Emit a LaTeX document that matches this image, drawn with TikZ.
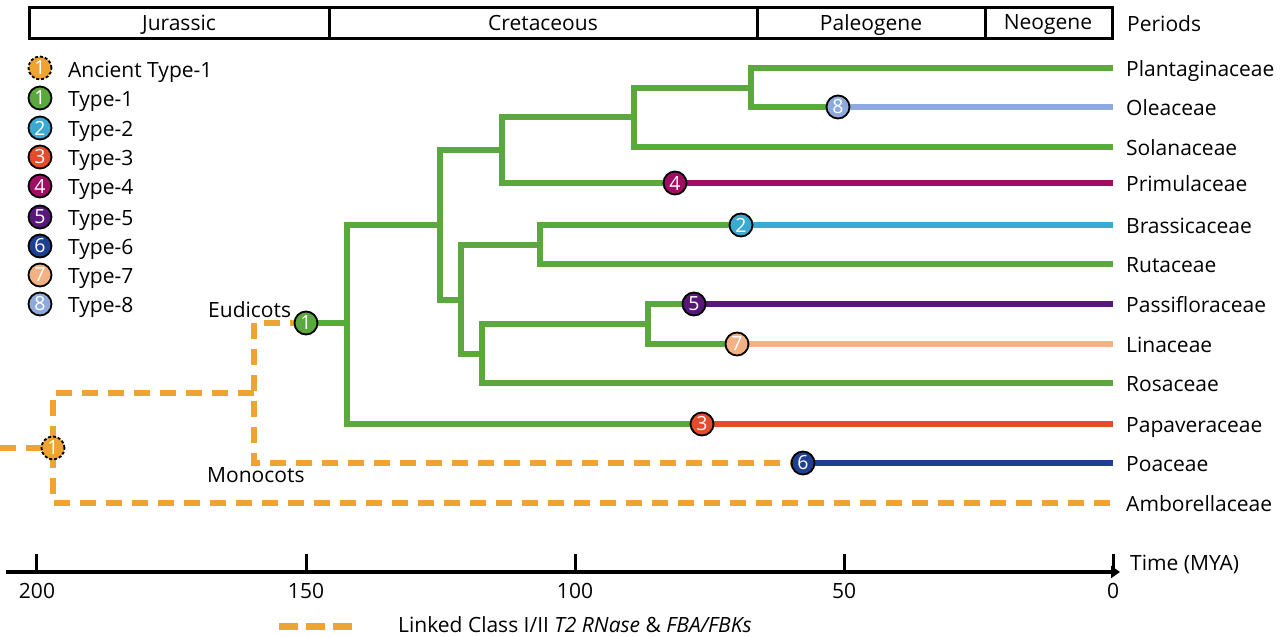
\documentclass[tikz,border=0pt]{standalone}
\usepackage{fontspec}
\setmainfont{Open Sans}
\usetikzlibrary{arrows.meta}
\definecolor{grn}{RGB}{91,168,62}
\definecolor{org}{RGB}{238,163,50}
\definecolor{cA}{RGB}{58,170,211}
\definecolor{cB}{RGB}{230,75,42}
\definecolor{cC}{RGB}{162,12,98}
\definecolor{cD}{RGB}{88,24,122}
\definecolor{cE}{RGB}{31,64,145}
\definecolor{cF}{RGB}{244,177,131}
\definecolor{cG}{RGB}{142,169,219}
\begin{document}
\begin{tikzpicture}[x=1pt,y=-1pt,
  br/.style={line width=6pt,line join=miter},
  gb/.style={br,draw=grn},
  od/.style={line width=6.5pt,draw=org,dash pattern=on 16pt off 10pt,line join=miter},
  mk/.style={circle,draw=black,line width=1.8pt,minimum size=23pt,inner sep=0pt,text=white,font=\fontsize{19.5}{19.5}\selectfont},
  txt/.style={inner sep=0pt,font=\fontsize{21}{25}\selectfont},
  lbl/.style={txt,anchor=base west},
  tick/.style={line width=3pt}]
\useasboundingbox (0,0) rectangle (1280,637);

% periods bar
\draw[line width=3pt] (29,7) rectangle (1112,38);
\draw[line width=3pt] (329,7) -- (329,38) (757,7) -- (757,38) (985,7) -- (985,38);
\node[txt,anchor=base] (pJ) at (179,30) {Jurassic};
\node[txt,anchor=base] (pC) at (543,30) {Cretaceous};
\node[txt,anchor=base] (pP) at (871,30) {Paleogene};
\node[txt,anchor=base] (pN) at (1048,29) {Neogene};
\node[lbl] (pL) at (1127,31) {Periods};

% legend
\node[mk,fill=org,dashed,dash pattern=on 3pt off 2pt] (l0) at (40,68) {1};
\node[mk,fill=grn] (l1) at (40,98) {1};
\node[mk,fill=cA] (l2) at (40,128) {2};
\node[mk,fill=cB] (l3) at (40,157) {3};
\node[mk,fill=cC] (l4) at (40,186) {4};
\node[mk,fill=cD] (l5) at (40,217) {5};
\node[mk,fill=cE] (l6) at (40,246) {6};
\node[mk,fill=cF] (l7) at (40,275) {7};
\node[mk,fill=cG] (l8) at (40,304) {8};
\node[lbl] (t0) at (68,77) {Ancient Type-1};
\node[lbl] (t1) at (68,106) {Type-1};
\node[lbl] (t2) at (68,136) {Type-2};
\node[lbl] (t3) at (68,165) {Type-3};
\node[lbl] (t4) at (68,194) {Type-4};
\node[lbl] (t5) at (68,225) {Type-5};
\node[lbl] (t6) at (68,254) {Type-6};
\node[lbl] (t7) at (68,283) {Type-7};
\node[lbl] (t8) at (68,312) {Type-8};

% tips
\coordinate (tPl) at (1113,68);
\coordinate (tOl) at (1113,107);
\coordinate (tSo) at (1113,147);
\coordinate (tPr) at (1113,183);
\coordinate (tBr) at (1113,225);
\coordinate (tRu) at (1113,264);
\coordinate (tPa) at (1113,304);
\coordinate (tLi) at (1113,344);
\coordinate (tRo) at (1113,383);
\coordinate (tPp) at (1113,424);
\coordinate (tPo) at (1113,463);
\coordinate (tAm) at (1113,503);
\coordinate (root) at (0,448);

\node[lbl] (nmPl) at (1126,76) {Plantaginaceae};
\node[lbl] (nmOl) at (1126,115) {Oleaceae};
\node[lbl] (nmSo) at (1126,155) {Solanaceae};
\node[lbl] (nmPr) at (1126,191) {Primulaceae};
\node[lbl] (nmBr) at (1126,233) {Brassicaceae};
\node[lbl] (nmRu) at (1126,272) {Rutaceae};
\node[lbl] (nmPa) at (1126,312) {Passifloraceae};
\node[lbl] (nmLi) at (1126,352) {Linaceae};
\node[lbl] (nmRo) at (1126,391) {Rosaceae};
\node[lbl] (nmPp) at (1126,432) {Papaveraceae};
\node[lbl] (nmPo) at (1126,471) {Poaceae};
\node[lbl] (nmAm) at (1126,511) {Amborellaceae};

% internal nodes
\coordinate (nPO) at (751,87.5);
\coordinate (nPOS) at (634,117);
\coordinate (nA) at (502,150);
\coordinate (nB) at (440,225);
\coordinate (nC) at (461,300);
\coordinate (nBr) at (540,245);
\coordinate (nD) at (482,354);
\coordinate (nPL) at (648,324);
\coordinate (nE) at (347,323);
\coordinate (nM) at (254,393);
\coordinate (nR) at (53,448);

% marker positions
\coordinate (p1) at (306,323);
\coordinate (p8) at (838,107);
\coordinate (p4) at (675,183);
\coordinate (p2) at (741,225);
\coordinate (p5) at (694,304);
\coordinate (p7) at (737,344);
\coordinate (p3) at (702,424);
\coordinate (p6) at (803,463);
\coordinate (p0) at (53,448);

% orange dashed (monocot / root)
\draw[od] (p1) -| (nM) |- (p6);
\draw[od] (nM) -| (nR) |- (tAm);
\draw[od] (root) -- (p0);

% green tree
\draw[gb] (tPl) -| (nPO) |- (p8);
\draw[gb] (nPO) -| (nPOS) |- (tSo);
\draw[gb] (nPOS) -| (nA) |- (p4);
\draw[gb] (nA) -| (nB) |- (nC);
\draw[gb] (p2) -| (nBr) |- (tRu);
\draw[gb] (nBr) -| (nC) |- (nD);
\draw[gb] (p5) -| (nPL) |- (p7);
\draw[gb] (nPL) -| (nD) |- (tRo);
\draw[gb] (nB) -| (nE) |- (p3);
\draw[gb] (nE) -- (p1);

% coloured branches
\draw[br,draw=cG] (p8) -- (tOl);
\draw[br,draw=cC] (p4) -- (tPr);
\draw[br,draw=cA] (p2) -- (tBr);
\draw[br,draw=cD] (p5) -- (tPa);
\draw[br,draw=cF] (p7) -- (tLi);
\draw[br,draw=cB] (p3) -- (tPp);
\draw[br,draw=cE] (p6) -- (tPo);

% markers on top
\node[mk,fill=grn] (c1) at (p1) {1};
\node[mk,fill=cG] (c8) at (p8) {8};
\node[mk,fill=cC] (c4) at (p4) {4};
\node[mk,fill=cA] (c2) at (p2) {2};
\node[mk,fill=cD] (c5) at (p5) {5};
\node[mk,fill=cF] (c7) at (p7) {7};
\node[mk,fill=cB] (c3) at (p3) {3};
\node[mk,fill=cE] (c6) at (p6) {6};
\node[mk,fill=org,dashed,dash pattern=on 3pt off 2pt] (c0) at (p0) {1};

\node[lbl] (eu) at (208,317) {Eudicots};
\node[lbl] (mo) at (207,482) {Monocots};

% time axis
\coordinate (ax0) at (6,572);
\coordinate (ax1) at (1120,572);
\draw[line width=4pt,-{Triangle[length=9pt,width=12pt]}] (ax0) -- (ax1);
\foreach \t/\n in {200/a,150/b,100/c,50/d,0/e}{
  \coordinate (k\n) at ({1113-5.38*\t},572);
  \draw[tick] (k\n) -- ++(0,-18);
  \node[txt] (v\n) at ({1113-5.38*\t},591) {\t};
}
\node[lbl] (tm) at (1130,570) {Time (MYA)};

% bottom legend
\coordinate (lg0) at (279,626);
\coordinate (lg1) at (353,626);
\draw[line width=7pt,draw=org,dash pattern=on 19pt off 8pt] (lg0) -- (lg1);
\node[lbl] (lgt) at (398,632) {Linked Class I/II \textit{T2 RNase} \& \textit{FBA/FBKs}};
\end{tikzpicture}
\end{document}
